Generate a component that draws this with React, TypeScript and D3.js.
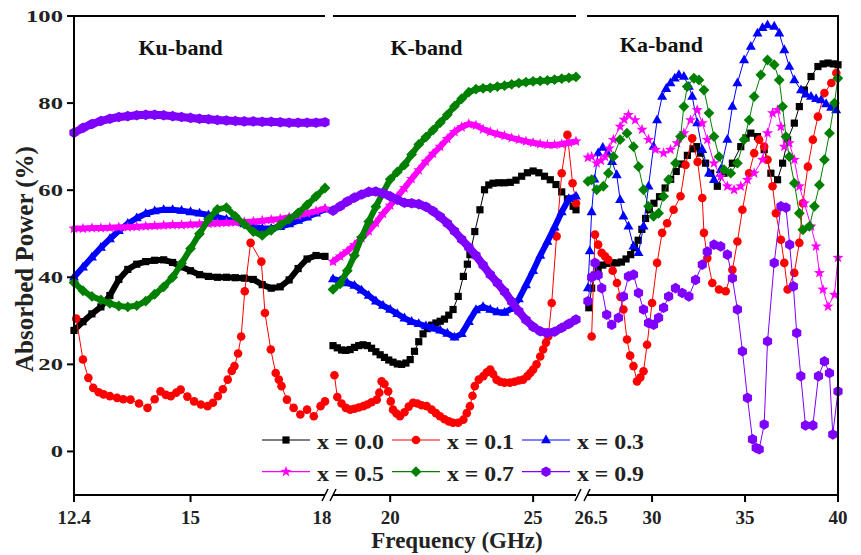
import React from 'react';
import * as d3 from 'd3';

// ---------------- data ----------------
const seriesLabels = ['x = 0.0', 'x = 0.1', 'x = 0.3', 'x = 0.5', 'x = 0.7', 'x = 0.9'];
const seriesColors = ['#000000', '#ff0000', '#0000ff', '#ff00ff', '#008000', '#7f00ff'];
const seriesMarkers = ['square', 'circle', 'triangle', 'star', 'diamond', 'hexagon'];

const yTicks = [0, 20, 40, 60, 80, 100];
const kuTicks = [12.4, 15, 18];
const kTicks = [20, 25];
const kaTicks = [26.5, 30, 35, 40];
const bandNames = ['Ku-band', 'K-band', 'Ka-band'];

// Ku band (12.4 - 18 GHz)
const kuFreq = [12.4, 12.6, 12.8, 13.0, 13.2, 13.4, 13.6, 13.8, 14.0, 14.2, 14.4, 14.6, 14.8, 15.0, 15.2, 15.4, 15.6, 15.8, 16.0, 16.2, 16.4, 16.6, 16.8, 17.0, 17.2, 17.4, 17.6, 17.8, 18.0];
const kuX00 = [27.8, 29.8, 31.6, 33.2, 35.8, 39.5, 41.8, 43.0, 43.6, 43.9, 44.0, 43.4, 42.4, 41.5, 40.6, 40.2, 40.0, 40.0, 39.9, 39.8, 39.5, 38.3, 37.5, 37.8, 39.4, 42.0, 44.2, 45.0, 44.8];
const kuX01: [number, number][] = [[12.45, 30.5], [12.6, 21.1], [12.72, 16.9], [12.83, 14.6], [12.95, 13.6], [13.06, 13.1], [13.2, 12.7], [13.36, 12.3], [13.5, 12.0], [13.66, 11.9], [13.85, 11.0], [14.04, 10.0], [14.2, 12.0], [14.33, 13.8], [14.45, 13.0], [14.56, 12.7], [14.68, 13.5], [14.78, 14.2], [14.93, 12.6], [15.08, 11.5], [15.23, 10.8], [15.38, 10.4], [15.5, 11.2], [15.61, 12.7], [15.72, 14.3], [15.83, 16.5], [15.92, 18.5], [15.98, 19.6], [16.06, 22.5], [16.13, 26.4], [16.21, 36.8], [16.34, 47.9], [16.58, 43.6], [16.66, 31.8], [16.79, 23.4], [16.9, 18.0], [16.97, 16.5], [17.03, 15.0], [17.15, 11.9], [17.3, 10.0], [17.45, 8.5], [17.6, 9.6], [17.75, 8.1], [17.9, 10.4], [18.0, 11.5]];
const kuX03 = [40.0, 42.3, 44.6, 46.8, 48.8, 50.7, 52.3, 53.6, 54.6, 55.2, 55.5, 55.5, 55.3, 55.0, 54.7, 54.3, 53.8, 53.3, 52.8, 52.2, 51.6, 51.2, 51.2, 51.6, 52.2, 53.0, 53.8, 54.7, 55.6];
const kuX05 = [51.2, 51.2, 51.3, 51.3, 51.4, 51.5, 51.5, 51.6, 51.7, 51.8, 51.9, 52.0, 52.0, 52.1, 52.2, 52.3, 52.4, 52.5, 52.6, 52.7, 52.8, 53.0, 53.2, 53.4, 53.8, 54.2, 54.7, 55.2, 55.8];
const kuX07 = [38.8, 36.9, 35.6, 34.8, 34.0, 33.4, 33.2, 33.5, 34.5, 36.1, 37.8, 40.0, 43.2, 46.6, 50.0, 53.3, 55.6, 56.0, 54.0, 52.2, 50.5, 49.6, 50.8, 52.0, 53.3, 54.8, 56.6, 58.6, 60.5];
const kuX09 = [73.2, 74.3, 75.2, 75.9, 76.4, 76.8, 77.0, 77.2, 77.3, 77.3, 77.2, 77.0, 76.8, 76.6, 76.4, 76.3, 76.1, 76.0, 75.9, 75.8, 75.8, 75.7, 75.7, 75.6, 75.5, 75.5, 75.5, 75.5, 75.6];

// K band (18 - 26.5 GHz)
const kFreq = [18.0, 18.25, 18.5, 18.75, 19.0, 19.25, 19.5, 19.75, 20.0, 20.25, 20.5, 20.75, 21.0, 21.25, 21.5, 21.75, 22.0, 22.25, 22.5, 22.75, 23.0, 23.25, 23.5, 23.75, 24.0, 24.25, 24.5, 24.75, 25.0, 25.25, 25.5, 25.75, 26.0, 26.25, 26.5];
const kX00: [number, number][] = [[18.0, 24.3], [18.15, 23.8], [18.3, 23.3], [18.45, 23.2], [18.6, 23.4], [18.75, 23.9], [18.9, 24.3], [19.05, 24.5], [19.2, 24.3], [19.35, 23.7], [19.5, 22.9], [19.65, 22.2], [19.8, 21.6], [19.95, 21.0], [20.1, 20.5], [20.25, 20.1], [20.4, 20.0], [20.55, 20.3], [20.7, 21.1], [20.85, 23.0], [21.0, 25.2], [21.15, 27.0], [21.3, 28.2], [21.45, 29.0], [21.6, 29.5], [21.75, 29.9], [21.9, 30.4], [22.05, 31.3], [22.2, 32.6], [22.38, 35.6], [22.56, 40.2], [22.7, 43.0], [22.79, 45.2], [22.96, 50.5], [23.14, 55.5], [23.3, 60.1], [23.45, 61.2], [23.6, 61.6], [23.8, 61.7], [24.0, 61.7], [24.2, 61.8], [24.4, 62.3], [24.6, 63.2], [24.8, 64.0], [25.0, 64.4], [25.2, 64.0], [25.4, 63.2], [25.6, 62.4], [25.8, 61.3], [26.0, 59.6], [26.2, 58.0], [26.4, 56.3], [26.5, 55.5]];
const kX01: [number, number][] = [[18.05, 17.5], [18.15, 12.5], [18.3, 11.0], [18.45, 10.0], [18.6, 9.6], [18.75, 9.8], [18.9, 10.1], [19.06, 10.4], [19.2, 10.8], [19.35, 11.3], [19.53, 11.9], [19.62, 13.5], [19.7, 16.1], [19.8, 15.5], [19.93, 13.8], [20.02, 11.5], [20.1, 9.6], [20.22, 8.7], [20.34, 8.1], [20.5, 9.0], [20.65, 10.3], [20.8, 11.2], [20.95, 11.0], [21.1, 10.6], [21.28, 10.4], [21.45, 9.6], [21.6, 8.8], [21.74, 8.1], [21.9, 7.4], [22.05, 6.9], [22.2, 6.6], [22.38, 6.6], [22.56, 7.3], [22.68, 8.8], [22.79, 10.4], [22.88, 12.8], [22.96, 15.0], [23.1, 16.5], [23.26, 17.3], [23.38, 18.2], [23.5, 18.8], [23.6, 17.8], [23.72, 16.5], [23.85, 16.0], [24.0, 15.8], [24.19, 15.8], [24.35, 16.0], [24.5, 16.3], [24.65, 16.5], [24.8, 17.3], [24.9, 18.0], [25.0, 18.8], [25.12, 20.0], [25.25, 21.8], [25.35, 23.4], [25.45, 25.0], [25.53, 26.4], [25.65, 34.1], [25.82, 49.4], [26.0, 63.9], [26.2, 72.7], [26.38, 61.6], [26.5, 57.0]];
const kX03 = [39.6, 39.2, 38.7, 38.1, 37.0, 35.8, 34.5, 33.5, 32.6, 31.6, 30.6, 29.8, 29.3, 28.8, 28.3, 27.8, 27.1, 26.2, 27.0, 29.8, 32.5, 33.2, 32.6, 32.0, 31.9, 32.8, 35.0, 38.2, 41.5, 45.0, 48.2, 51.5, 55.0, 58.0, 58.6];
const kX05 = [43.6, 44.8, 46.0, 47.4, 49.0, 50.6, 52.5, 54.6, 56.5, 58.5, 60.5, 62.6, 64.6, 66.6, 68.4, 70.0, 71.8, 73.4, 74.5, 75.2, 74.9, 74.0, 73.4, 72.9, 72.5, 72.0, 71.6, 71.2, 70.9, 70.6, 70.4, 70.4, 70.6, 70.9, 71.2];
const kX07 = [37.2, 38.5, 41.5, 45.0, 49.2, 52.8, 56.2, 59.5, 62.5, 64.2, 65.8, 68.2, 70.5, 72.2, 73.8, 75.5, 77.3, 79.3, 81.0, 82.5, 83.2, 83.4, 83.5, 83.8, 84.0, 84.3, 84.6, 84.8, 85.0, 85.1, 85.2, 85.4, 85.6, 85.8, 86.0];
const kX09 = [55.3, 56.3, 57.4, 58.3, 59.0, 59.6, 59.7, 59.3, 58.6, 57.8, 57.1, 57.0, 56.8, 56.2, 55.2, 53.9, 52.4, 50.6, 48.7, 46.9, 45.0, 42.8, 40.6, 38.7, 36.7, 34.4, 32.2, 30.2, 28.6, 27.6, 27.2, 27.5, 28.4, 29.3, 30.3];

// Ka band (26.5 - 40 GHz)
const kaX00: [number, number][] = [[26.6, 33.0], [26.75, 37.5], [26.9, 40.5], [27.1, 42.0], [27.35, 42.8], [27.6, 43.2], [27.85, 43.3], [28.1, 43.3], [28.35, 43.5], [28.6, 44.2], [28.85, 45.2], [29.05, 46.8], [29.25, 48.5], [29.45, 51.0], [29.65, 53.5], [29.85, 55.5], [30.1, 57.0], [30.4, 58.5], [30.7, 60.5], [31.0, 62.5], [31.3, 64.3], [31.6, 66.0], [31.9, 68.0], [32.2, 69.5], [32.4, 70.0], [32.61, 68.5], [32.88, 66.2], [33.15, 63.9], [33.51, 60.9], [33.87, 63.9], [34.32, 66.2], [34.77, 70.0], [35.05, 72.0], [35.31, 73.1], [35.67, 72.3], [36.03, 69.3], [36.39, 63.9], [36.75, 62.4], [37.02, 66.2], [37.29, 71.6], [37.65, 75.4], [37.92, 79.2], [38.19, 83.0], [38.55, 86.1], [38.92, 88.4], [39.2, 89.0], [39.46, 89.2], [39.75, 89.0], [40.0, 88.8]];
const kaX01: [number, number][] = [[26.75, 26.4], [26.93, 49.8], [27.1, 47.5], [27.29, 45.6], [27.47, 44.8], [27.65, 44.0], [27.88, 41.5], [28.11, 38.7], [28.3, 35.5], [28.46, 32.6], [28.65, 25.7], [28.82, 22.0], [29.0, 19.6], [29.19, 16.1], [29.37, 17.0], [29.54, 18.4], [29.73, 24.5], [30.0, 34.1], [30.27, 43.3], [30.54, 50.2], [30.81, 52.4], [31.16, 55.5], [31.53, 58.6], [31.8, 65.8], [32.16, 71.9], [32.45, 66.5], [32.7, 58.2], [32.79, 50.2], [32.97, 44.4], [33.24, 38.7], [33.6, 37.2], [33.96, 36.8], [34.32, 41.7], [34.59, 48.2], [34.86, 55.5], [35.22, 63.9], [35.49, 68.5], [35.76, 71.6], [36.03, 70.0], [36.21, 67.0], [36.48, 60.9], [36.66, 54.7], [36.93, 48.6], [37.11, 43.3], [37.29, 37.2], [37.65, 41.0], [37.92, 47.9], [38.11, 57.0], [38.38, 65.4], [38.65, 71.6], [38.92, 76.9], [39.27, 82.3], [39.64, 84.6], [39.91, 86.9]];
const kaX03: [number, number][] = [[26.55, 37.5], [26.65, 46.0], [26.75, 55.0], [26.9, 62.5], [27.1, 68.5], [27.35, 69.8], [27.6, 68.5], [27.85, 66.5], [28.1, 63.5], [28.28, 57.8], [28.46, 54.0], [28.73, 51.7], [29.0, 47.1], [29.27, 45.6], [29.54, 51.7], [29.81, 60.9], [30.08, 70.0], [30.27, 76.1], [30.54, 81.5], [30.76, 83.3], [30.99, 84.6], [31.22, 85.7], [31.44, 86.5], [31.71, 86.1], [31.98, 83.8], [32.16, 81.5], [32.43, 75.4], [32.7, 69.3], [33.06, 63.9], [33.33, 62.4], [33.69, 64.7], [34.05, 71.6], [34.32, 79.2], [34.59, 84.6], [34.95, 89.9], [35.31, 93.0], [35.67, 96.0], [35.94, 97.3], [36.21, 97.9], [36.57, 97.6], [36.84, 96.0], [37.11, 92.2], [37.38, 88.4], [37.65, 85.3], [38.01, 83.0], [38.28, 82.0], [38.55, 81.5], [38.82, 81.0], [39.09, 80.7], [39.36, 79.8], [39.63, 79.0], [39.9, 78.4]];
const kaX05: [number, number][] = [[26.55, 67.5], [26.75, 67.7], [27.02, 66.2], [27.25, 66.8], [27.47, 67.7], [27.7, 69.6], [27.92, 71.6], [28.28, 74.6], [28.5, 76.2], [28.73, 77.3], [29.09, 76.1], [29.46, 73.9], [29.81, 71.6], [30.18, 69.3], [30.62, 68.5], [30.99, 69.3], [31.35, 70.8], [31.71, 73.1], [32.07, 76.1], [32.43, 78.4], [32.7, 75.4], [32.97, 71.6], [33.33, 66.2], [33.69, 63.1], [34.05, 60.9], [34.41, 60.1], [34.77, 60.9], [35.13, 62.4], [35.49, 63.9], [35.94, 67.0], [36.21, 73.1], [36.48, 77.7], [36.75, 78.4], [36.93, 74.6], [37.11, 70.0], [37.38, 70.8], [37.65, 67.0], [37.92, 60.9], [38.19, 57.0], [38.55, 51.7], [38.82, 47.1], [39.0, 41.0], [39.19, 37.2], [39.46, 33.3], [39.81, 36.0], [40.0, 44.5]];
const kaX07: [number, number][] = [[26.55, 62.0], [26.75, 62.4], [27.02, 60.1], [27.38, 60.9], [27.65, 63.9], [27.92, 67.7], [28.28, 71.6], [28.65, 73.1], [29.0, 70.0], [29.27, 65.4], [29.54, 60.1], [29.81, 56.3], [30.08, 54.0], [30.35, 54.7], [30.62, 58.6], [30.89, 62.4], [31.26, 66.2], [31.53, 72.3], [31.71, 79.2], [31.89, 83.8], [32.25, 85.7], [32.52, 85.3], [32.79, 83.0], [33.06, 77.7], [33.33, 72.3], [33.6, 67.7], [33.87, 64.7], [34.23, 63.9], [34.59, 66.2], [34.95, 71.6], [35.22, 76.1], [35.49, 81.5], [35.85, 86.5], [36.21, 89.9], [36.57, 88.8], [36.84, 85.3], [37.02, 79.2], [37.2, 72.3], [37.38, 67.7], [37.65, 61.6], [37.92, 54.7], [38.11, 50.9], [38.46, 51.7], [38.73, 56.3], [39.0, 61.2], [39.27, 67.0], [39.54, 73.1], [39.81, 80.0], [39.99, 85.7]];
const kaX09: [number, number][] = [[26.55, 34.5], [26.75, 40.0], [26.93, 43.3], [27.1, 40.5], [27.29, 37.5], [27.56, 31.4], [27.83, 29.1], [28.19, 30.7], [28.46, 35.6], [28.73, 40.2], [29.0, 40.6], [29.27, 36.4], [29.54, 32.6], [29.81, 29.5], [30.08, 29.1], [30.35, 30.7], [30.62, 33.0], [30.89, 35.6], [31.26, 37.5], [31.62, 36.4], [31.98, 35.6], [32.34, 39.4], [32.7, 42.9], [32.97, 45.9], [33.33, 47.5], [33.69, 47.1], [34.05, 45.2], [34.32, 39.8], [34.59, 32.6], [34.86, 23.0], [35.13, 12.3], [35.4, 2.8], [35.6, 0.8], [35.76, 0.5], [36.03, 6.2], [36.21, 25.3], [36.57, 43.3], [36.93, 56.3], [37.2, 56.0], [37.4, 47.5], [37.6, 37.9], [37.78, 27.2], [38.0, 17.3], [38.25, 6.0], [38.65, 6.0], [38.95, 17.3], [39.27, 20.7], [39.54, 18.0], [39.72, 3.9], [40.0, 13.8]];

// ---------------- layout / style ----------------
const FONT = "'Liberation Serif','Times New Roman',Times,serif";
const plotTop = 16;
const plotBottom = 495;
const rightEdge = 838;

type Pt = [number, number];
const zip = (f: number[], v: number[]): Pt[] => f.map((x, i) => [x, v[i]] as Pt);

// band width of the densely sampled curves (markers overlap into a thick band)
const denseKu = [6, 0, 6, 6, 6, 8];
const denseK = [0, 0, 6, 6, 6, 8];
const denseKa = [0, 0, 0, 0, 0, 0];

const bands = [
  {
    name: bandNames[0], domain: [12.4, 18], range: [74, 325], ticks: kuTicks, dense: denseKu,
    series: [zip(kuFreq, kuX00), kuX01, zip(kuFreq, kuX03), zip(kuFreq, kuX05), zip(kuFreq, kuX07), zip(kuFreq, kuX09)],
    titleAt: 14.78, titleBase: 55,
  },
  {
    name: bandNames[1], domain: [18, 26.5], range: [333, 576], ticks: kTicks, dense: denseK,
    series: [kX00, kX01, zip(kFreq, kX03), zip(kFreq, kX05), zip(kFreq, kX07), zip(kFreq, kX09)],
    titleAt: 21.27, titleBase: 55,
  },
  {
    name: bandNames[2], domain: [26.5, 40], range: [587, 838], ticks: kaTicks, dense: denseKa,
    series: [kaX00, kaX01, kaX03, kaX05, kaX07, kaX09],
    titleAt: 30.5, titleBase: 52,
  },
];

function markerPath(kind: string): string {
  switch (kind) {
    case 'square': {
      const s = 3.6;
      return `M${-s},${-s}h${2 * s}v${2 * s}h${-2 * s}Z`;
    }
    case 'circle': {
      const r = 4.3;
      return `M${r},0A${r},${r} 0 1,1 ${-r},0A${r},${r} 0 1,1 ${r},0Z`;
    }
    case 'triangle':
      return 'M0,-5.6L5,3.2L-5,3.2Z';
    case 'star': {
      const pts: string[] = [];
      for (let i = 0; i < 10; i++) {
        const a = -Math.PI / 2 + (i * Math.PI) / 5;
        const r = i % 2 === 0 ? 5.8 : 2.4;
        pts.push(`${(r * Math.cos(a)).toFixed(2)},${(r * Math.sin(a)).toFixed(2)}`);
      }
      return 'M' + pts.join('L') + 'Z';
    }
    case 'diamond': {
      const r = 5.4;
      return `M0,${-r}L${r},0L0,${r}L${-r},0Z`;
    }
    case 'hexagon': {
      const pts: string[] = [];
      for (let i = 0; i < 6; i++) {
        const a = -Math.PI / 2 + (i * Math.PI) / 3;
        pts.push(`${(5.3 * Math.cos(a)).toFixed(2)},${(5.3 * Math.sin(a)).toFixed(2)}`);
      }
      return 'M' + pts.join('L') + 'Z';
    }
  }
  return '';
}

export default function App() {
  const y = d3.scaleLinear().domain([-10, 100]).range([plotBottom, plotTop]);
  const markerPaths = seriesMarkers.map(markerPath);

  return (
    <svg
      width={861}
      height={555}
      viewBox="0 0 861 555"
      style={{ position: 'absolute', left: 0, top: 0, background: '#ffffff' }}
      fontFamily={FONT}
      fontWeight="bold"
    >
      <rect x={0} y={0} width={861} height={555} fill="#ffffff" />

      {/* series */}
      {bands.map((band, bi) => {
        const x = d3.scaleLinear().domain(band.domain).range(band.range);
        const line = d3.line<Pt>().x((d) => x(d[0])).y((d) => y(d[1]));
        return (
          <g key={'band' + bi}>
            {band.series.map((pts, si) => {
              const bw = band.dense[si];
              return (
                <g key={'s' + si}>
                  <path
                    d={line(pts) || ''}
                    fill="none"
                    stroke={seriesColors[si]}
                    strokeWidth={bw > 0 ? bw : 1}
                    strokeLinejoin="round"
                    strokeLinecap="round"
                  />
                  {pts.map((p, pi) => (
                    <path
                      key={pi}
                      d={markerPaths[si]}
                      transform={`translate(${x(p[0]).toFixed(2)},${y(p[1]).toFixed(2)})`}
                      fill={seriesColors[si]}
                    />
                  ))}
                </g>
              );
            })}
          </g>
        );
      })}

      {/* frame & axes */}
      {bands.map((band, bi) => {
        const x = d3.scaleLinear().domain(band.domain).range(band.range);
        return (
          <g key={'axis' + bi}>
            <line x1={band.range[0]} x2={band.range[1]} y1={plotTop} y2={plotTop} stroke="#000" strokeWidth={2} />
            <line x1={band.range[0]} x2={band.range[1]} y1={plotBottom} y2={plotBottom} stroke="#000" strokeWidth={2} />
            {band.ticks.map((t) => {
              const tx = x(t);
              const isBreak = (bi === 0 && t === 18) || (bi === 2 && t === 26.5);
              const lx = bi === 0 && t === 18 ? tx - 3 : bi === 2 && t === 26.5 ? tx + 4 : tx;
              return (
                <g key={t}>
                  {!isBreak && <line x1={tx} x2={tx} y1={plotBottom} y2={plotBottom + 7} stroke="#000" strokeWidth={2} />}
                  <text x={lx} y={524} textAnchor="middle" fontSize={19} fill="#222">
                    {String(t)}
                  </text>
                </g>
              );
            })}
            <text x={x(band.titleAt)} y={band.titleBase} textAnchor="middle" fontSize={22} fill="#111">
              {band.name}
            </text>
          </g>
        );
      })}

      {/* axis breaks */}
      {[bands[0].range[1], bands[1].range[0], bands[1].range[1] + 2, bands[2].range[0]].map((bx, i) => (
        <line key={'br' + i} x1={bx - 3} y1={plotBottom + 6} x2={bx + 3} y2={plotBottom - 6} stroke="#000" strokeWidth={1.5} />
      ))}

      {/* left & right axes */}
      <line x1={74} x2={74} y1={plotTop - 1} y2={plotBottom + 1} stroke="#000" strokeWidth={2} />
      <line x1={rightEdge} x2={rightEdge} y1={plotTop - 1} y2={plotBottom + 1} stroke="#000" strokeWidth={2} />
      {yTicks.map((t) => (
        <g key={'yt' + t}>
          <line x1={67} x2={74} y1={y(t)} y2={y(t)} stroke="#000" strokeWidth={2} />
          <text transform={`translate(63,${y(t) + 6}) scale(1.45,1)`} textAnchor="end" fontSize={17} fill="#222">
            {String(t)}
          </text>
        </g>
      ))}

      {/* axis titles */}
      <text transform="translate(33,259) rotate(-90)" textAnchor="middle" fontSize={25} fill="#222">
        Absorbed Power (%)
      </text>
      <text x={457} y={548} textAnchor="middle" fontSize={23} fill="#222">
        Frequency (GHz)
      </text>

      {/* legend */}
      {seriesLabels.map((lab, i) => {
        const row = Math.floor(i / 3);
        const col = i % 3;
        const lx = 262 + col * 130;
        const ly = 440 + row * 31.7;
        return (
          <g key={'lg' + i}>
            <line x1={lx} x2={lx + 48} y1={ly} y2={ly} stroke={seriesColors[i]} strokeWidth={1.2} />
            <path d={markerPaths[i]} transform={`translate(${lx + 24},${ly})`} fill={seriesColors[i]} />
            <text x={lx + 55} y={ly + 9} fontSize={21} fill="#222" textLength={67} lengthAdjust="spacingAndGlyphs">
              {lab}
            </text>
          </g>
        );
      })}
    </svg>
  );
}
